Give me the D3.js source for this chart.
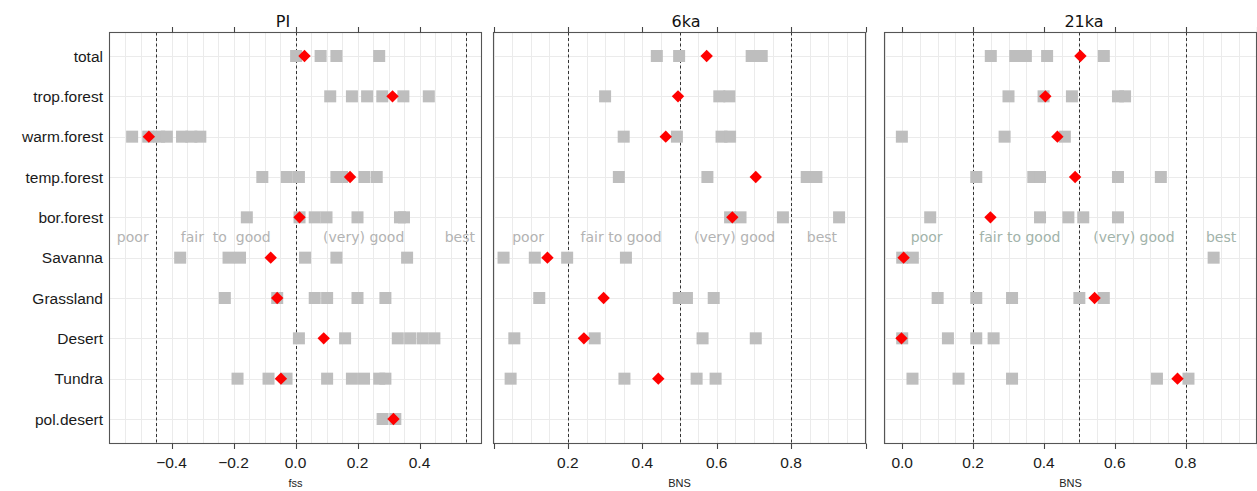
<!DOCTYPE html>
<html>
<head>
<meta charset="utf-8">
<script src="https://cdn.jsdelivr.net/npm/d3@7/dist/d3.min.js"></script>
<style>
  html, body { margin: 0; padding: 0; background: #fff; }
  svg { display: block; }
  .cls { white-space: pre; }
</style>
</head>
<body>
<svg id="chart" width="1257" height="491"></svg>
<script>
// Biome categories, top to bottom
const categories = ["total", "trop.forest", "warm.forest", "temp.forest", "bor.forest",
  "Savanna", "Grassland", "Desert", "Tundra", "pol.desert"];

// PI (fss): individual model scores and ensemble mean
const piModels = [
  [0.002, 0.081, 0.132, 0.27],
  [0.112, 0.182, 0.231, 0.28, 0.348, 0.43],
  [-0.527, -0.475, -0.44, -0.415, -0.366, -0.336, -0.307],
  [-0.107, -0.028, 0.011, 0.132, 0.15, 0.222, 0.262],
  [-0.157, 0.013, 0.062, 0.10, 0.20, 0.337, 0.35],
  [-0.372, -0.216, -0.179, 0.031, 0.132, 0.36],
  [-0.228, -0.059, 0.062, 0.102, 0.20, 0.29],
  [0.011, 0.16, 0.33, 0.37, 0.41, 0.448],
  [-0.187, -0.087, -0.029, 0.102, 0.182, 0.221, 0.27, 0.29],
  [0.281, 0.322]
];
const piMean = [0.029, 0.313, -0.473, 0.176, 0.013, -0.080, -0.059, 0.091, -0.047, 0.316];

// 6ka (BNS)
const ka6Models = [
  [0.439, 0.499, 0.694, 0.721],
  [0.300, 0.607, 0.634],
  [0.350, 0.493, 0.613, 0.636],
  [0.337, 0.575, 0.842, 0.868],
  [0.636, 0.664, 0.778, 0.929],
  [0.027, 0.111, 0.198, 0.356],
  [0.123, 0.498, 0.52, 0.592],
  [0.056, 0.272, 0.562, 0.705],
  [0.046, 0.352, 0.546, 0.597],
  []
];
const ka6Mean = [0.573, 0.496, 0.463, 0.705, 0.642, 0.145, 0.296, 0.243, 0.443, null];

// 21ka (BNS)
const ka21Models = [
  [0.25, 0.319, 0.349, 0.409, 0.569],
  [0.30, 0.399, 0.479, 0.609, 0.629],
  [-0.001, 0.289, 0.459],
  [0.209, 0.37, 0.389, 0.609, 0.73],
  [0.079, 0.389, 0.469, 0.511, 0.609],
  [0.0, 0.03, 0.879],
  [0.10, 0.209, 0.31, 0.50, 0.569],
  [0.0, 0.129, 0.209, 0.258],
  [0.029, 0.159, 0.31, 0.719, 0.808],
  []
];
const ka21Mean = [0.503, 0.404, 0.438, 0.488, 0.249, 0.004, 0.543, -0.002, 0.777, null];

// Axis ticks and skill class boundaries
const piTicks = [-0.4, -0.2, 0.0, 0.2, 0.4];
const ka6Ticks = [0.0, 0.2, 0.4, 0.6, 0.8, 1.0];
const ka6TickLabels = ["", "0.2", "0.4", "0.6", "0.8", ""];
const ka21Ticks = [0.0, 0.2, 0.4, 0.6, 0.8, 1.0];
const ka21TickLabels = ["0.0", "0.2", "0.4", "0.6", "0.8", ""];
const piBounds = [-0.45, 0.0, 0.55];
const bnsBounds = [0.2, 0.5, 0.8];

// Skill class names and where they sit on each axis
const piClassNames = ["poor", "fair  to  good", "(very) good", "best"];
const bnsClassNames = ["poor", "fair to good", "(very) good", "best"];
const piClassAt = [-0.525, -0.225, 0.22, 0.53];
const ka6ClassAt = [0.093, 0.343, 0.648, 0.883];
const ka21ClassAt = [0.069, 0.332, 0.654, 0.90];

const panels = [
  { title: "PI", axisTitle: "fss", domain: [-0.6, 0.6], range: [109.5, 481.5], titleX: 283,
    models: piModels, mean: piMean, ticks: piTicks, tickLabels: piTicks.map(d3.format(".1f")),
    bounds: piBounds, classNames: piClassNames, classAt: piClassAt, classColor: "#b3b3b3" },
  { title: "6ka", axisTitle: "BNS", domain: [0, 1], range: [493.5, 865.5], titleX: 686,
    models: ka6Models, mean: ka6Mean, ticks: ka6Ticks, tickLabels: ka6TickLabels,
    bounds: bnsBounds, classNames: bnsClassNames, classAt: ka6ClassAt, classColor: "#b3b3b3" },
  { title: "21ka", axisTitle: "BNS", domain: [-0.05, 1.0], range: [884.5, 1256.5], titleX: 1084,
    models: ka21Models, mean: ka21Mean, ticks: ka21Ticks, tickLabels: ka21TickLabels,
    bounds: bnsBounds, classNames: bnsClassNames, classAt: ka21ClassAt, classColor: "#a2b3aa" }
];

const svg = d3.select("#chart");
const yTop = 32.5, yBottom = 443.5;
const y = d3.scalePoint().domain(categories).range([56, 419]);

// Row labels on the left
svg.append("g")
  .selectAll("text")
  .data(categories)
  .join("text")
  .attr("x", 103)
  .attr("y", d => y(d))
  .attr("dy", "0.36em")
  .attr("text-anchor", "end")
  .attr("font-family", "'Liberation Sans', Arial, sans-serif")
  .attr("font-size", 15.5)
  .attr("fill", "#1a1a1a")
  .text(d => d);

panels.forEach(p => {
  const x = d3.scaleLinear().domain(p.domain).range(p.range);
  const g = svg.append("g");

  // vertical grid every 0.05
  const gridVals = d3.range(Math.ceil(p.domain[0] / 0.05), Math.floor(p.domain[1] / 0.05) + 1)
    .map(k => +(k * 0.05).toFixed(2));
  g.append("g").selectAll("line")
    .data(gridVals)
    .join("line")
    .attr("x1", d => Math.round(x(d)) + 0.5).attr("x2", d => Math.round(x(d)) + 0.5)
    .attr("y1", yTop).attr("y2", yBottom)
    .attr("stroke", "#ebebeb").attr("stroke-width", 1);

  // horizontal grid at each row
  g.append("g").selectAll("line")
    .data(categories)
    .join("line")
    .attr("x1", p.range[0]).attr("x2", p.range[1])
    .attr("y1", d => Math.round(y(d)) + 0.5).attr("y2", d => Math.round(y(d)) + 0.5)
    .attr("stroke", "#ebebeb").attr("stroke-width", 1);

  // skill class boundaries
  g.append("g").selectAll("line")
    .data(p.bounds)
    .join("line")
    .attr("x1", d => Math.round(x(d)) + 0.5).attr("x2", d => Math.round(x(d)) + 0.5)
    .attr("y1", yTop).attr("y2", yBottom)
    .attr("stroke", "#333").attr("stroke-width", 1)
    .attr("stroke-dasharray", "3,2.5");

  // skill class names
  g.append("g").selectAll("text")
    .data(p.classNames)
    .join("text")
    .attr("class", "cls")
    .attr("x", (d, i) => x(p.classAt[i]))
    .attr("y", 242)
    .attr("text-anchor", "middle")
    .attr("font-family", "'DejaVu Sans', sans-serif")
    .attr("font-size", 14)
    .attr("fill", p.classColor)
    .text(d => d);

  // model scores as grey squares
  const sq = 12;
  const pts = [];
  p.models.forEach((vals, i) => vals.forEach(v => pts.push({ cat: categories[i], v })));
  g.append("g").selectAll("rect")
    .data(pts)
    .join("rect")
    .attr("x", d => x(d.v) - sq / 2)
    .attr("y", d => y(d.cat) - sq / 2)
    .attr("width", sq).attr("height", sq)
    .attr("fill", "#bebebe");

  // ensemble mean as red diamonds
  const means = p.mean.map((v, i) => ({ cat: categories[i], v })).filter(d => d.v !== null);
  g.append("g").selectAll("path")
    .data(means)
    .join("path")
    .attr("transform", d => `translate(${x(d.v)},${y(d.cat)})`)
    .attr("d", "M0,-6.2L6.2,0L0,6.2L-6.2,0Z")
    .attr("fill", "#ff0000");

  // frame
  g.append("rect")
    .attr("x", p.range[0]).attr("y", yTop)
    .attr("width", p.range[1] - p.range[0]).attr("height", yBottom - yTop)
    .attr("fill", "none").attr("stroke", "#555").attr("stroke-width", 1.1);

  // ticks on top and bottom
  g.append("g").selectAll("line")
    .data(p.ticks)
    .join("line")
    .attr("x1", d => Math.round(x(d)) + 0.5).attr("x2", d => Math.round(x(d)) + 0.5)
    .attr("y1", yTop - 5.5).attr("y2", yTop)
    .attr("stroke", "#444").attr("stroke-width", 1.1);
  g.append("g").selectAll("line")
    .data(p.ticks)
    .join("line")
    .attr("x1", d => Math.round(x(d)) + 0.5).attr("x2", d => Math.round(x(d)) + 0.5)
    .attr("y1", yBottom).attr("y2", yBottom + 5.5)
    .attr("stroke", "#444").attr("stroke-width", 1.1);

  // tick labels
  g.append("g").selectAll("text")
    .data(p.ticks)
    .join("text")
    .attr("x", d => x(d))
    .attr("y", 467.5)
    .attr("text-anchor", "middle")
    .attr("font-family", "'Liberation Sans', Arial, sans-serif")
    .attr("font-size", 15.5)
    .attr("fill", "#1a1a1a")
    .text((d, i) => p.tickLabels[i]);

  // panel title
  g.append("text")
    .attr("x", p.titleX).attr("y", 27)
    .attr("text-anchor", "middle")
    .attr("font-family", "'DejaVu Sans', sans-serif")
    .attr("font-size", 16)
    .attr("fill", "#111")
    .text(p.title);

  // axis title
  g.append("text")
    .attr("x", (p.range[0] + p.range[1]) / 2)
    .attr("y", 487)
    .attr("text-anchor", "middle")
    .attr("font-family", "'Liberation Sans', Arial, sans-serif")
    .attr("font-size", 11)
    .attr("fill", "#222")
    .text(p.axisTitle);
});
</script>
</body>
</html>
